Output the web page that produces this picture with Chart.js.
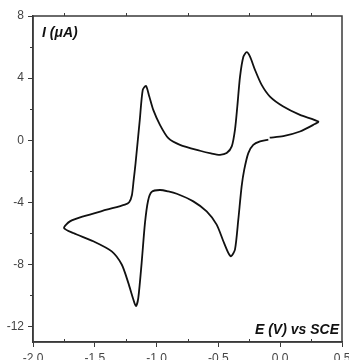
<!DOCTYPE html>
<html>
<head>
<meta charset="utf-8">
<script src="https://cdn.jsdelivr.net/npm/chart.js@4.4.1/dist/chart.umd.min.js"></script>
<style>
  html, body { margin: 0; padding: 0; background: #fff; }
  #wrap { width: 349px; height: 360px; }
</style>
</head>
<body>
<div id="wrap"><canvas id="cv"></canvas></div>
<script>
// cyclic voltammogram (E in V vs SCE, I in µA)
const potential = [
  -0.085, 0.025, 0.160, 0.268, 0.308,
  0.160, 0.025, -0.083, -0.150, -0.204, -0.244, -0.271, -0.298, -0.325, -0.347, -0.366,
  -0.392, -0.433, -0.487, -0.560, -0.649, -0.811, -0.905, -0.973, -1.027, -1.059, -1.086,
  -1.112, -1.136, -1.170, -1.186, -1.200, -1.222, -1.256, -1.404, -1.593, -1.701, -1.749,
  -1.674, -1.512, -1.363, -1.282, -1.229, -1.188, -1.167, -1.148, -1.121, -1.094, -1.069,
  -1.040, -0.973, -0.905, -0.837, -0.703, -0.595, -0.514, -0.460, -0.420, -0.398, -0.366,
  -0.339, -0.312, -0.291, -0.258, -0.218, -0.163, -0.096
];
const current = [
  0.16, 0.26, 0.56, 0.99, 1.20,
  1.63, 2.17, 2.81, 3.56, 4.53, 5.38, 5.67, 5.38, 4.10, 2.17, 0.67,
  -0.40, -0.83, -0.94, -0.85, -0.68, -0.30, 0.13, 0.99, 1.95, 2.81, 3.50,
  3.24, 1.31, -1.47, -2.60, -3.55, -4.00, -4.15, -4.48, -4.91, -5.23, -5.65,
  -5.98, -6.51, -7.16, -8.01, -9.19, -10.26, -10.69, -10.16, -7.90, -5.33, -3.90,
  -3.33, -3.21, -3.30, -3.45, -3.94, -4.59, -5.44, -6.51, -7.26, -7.48, -7.05,
  -5.12, -2.98, -1.90, -0.83, -0.30, -0.08, 0.03
];

const xTicks = [-2.0, -1.5, -1.0, -0.5, 0.0, 0.5];
const xMinor = [-1.75, -1.25, -0.75, -0.25, 0.25];
const yTicks = [-12, -8, -4, 0, 4, 8];
const yMinor = [-10, -6, -2, 2, 6];

const axisColor = "#3a3a3a";
const labelFont = { family: "'Liberation Sans', Arial, sans-serif", size: 12 };

const frame = {
  id: "frame",
  afterDraw(chart) {
    const ctx = chart.ctx;
    const { left, right, top, bottom } = chart.chartArea;
    const xs = chart.scales.x, ys = chart.scales.y;
    ctx.save();
    ctx.strokeStyle = axisColor;
    ctx.lineWidth = 1.5;
    ctx.strokeRect(left, top, right - left, bottom - top);
    ctx.lineWidth = 1;
    ctx.beginPath();
    xMinor.forEach(v => {
      const px = Math.round(xs.getPixelForValue(v)) + 0.5;
      ctx.moveTo(px, bottom); ctx.lineTo(px, bottom - 3);
      ctx.moveTo(px, top);    ctx.lineTo(px, top - 3);
    });
    yMinor.forEach(v => {
      const py = Math.round(ys.getPixelForValue(v)) + 0.5;
      ctx.moveTo(left, py); ctx.lineTo(left - 3, py);
    });
    ctx.stroke();

    ctx.fillStyle = "#111";
    ctx.font = "italic bold 14px 'Liberation Sans', Arial, sans-serif";
    ctx.textBaseline = "alphabetic";
    ctx.textAlign = "left";
    ctx.fillText("I (μA)", left + 9, top + 21);
    ctx.textAlign = "right";
    ctx.fillText("E (V) vs SCE", right - 3, bottom - 8);
    ctx.restore();
  }
};

new Chart(document.getElementById("cv"), {
  type: "scatter",
  data: {
    datasets: [{
      label: "CV",
      data: potential.map((e, i) => ({ x: e, y: current[i] })),
      showLine: true,
      borderColor: "#111",
      borderWidth: 1.8,
      pointRadius: 0,
      tension: 0.25,
      fill: false
    }]
  },
  options: {
    responsive: true,
    maintainAspectRatio: false,
    animation: false,
    layout: { padding: { top: 16, right: 7, left: 0, bottom: 0 } },
    plugins: { legend: { display: false }, tooltip: { enabled: false } },
    scales: {
      x: {
        type: "linear", min: -2, max: 0.5,
        afterBuildTicks: s => { s.ticks = xTicks.map(v => ({ value: v })); },
        afterFit: s => { s.height = 18; s.paddingLeft = 0; s.paddingRight = 0; },
        grid: { drawOnChartArea: false, tickLength: 5, tickColor: axisColor, tickWidth: 1 },
        border: { color: axisColor, width: 1.5 },
        ticks: { color: "#444", font: labelFont, padding: 4, maxRotation: 0,
                 callback: v => v.toFixed(1) }
      },
      y: {
        type: "linear", min: -13, max: 8,
        afterBuildTicks: s => { s.ticks = yTicks.map(v => ({ value: v })); },
        afterFit: s => { s.width = 33; s.paddingTop = 0; s.paddingBottom = 0; },
        grid: { drawOnChartArea: false, tickLength: 5, tickColor: axisColor, tickWidth: 1 },
        border: { color: axisColor, width: 1.5 },
        ticks: { color: "#444", font: labelFont, padding: 4, callback: v => String(v) }
      }
    }
  },
  plugins: [frame]
});
</script>
</body>
</html>
